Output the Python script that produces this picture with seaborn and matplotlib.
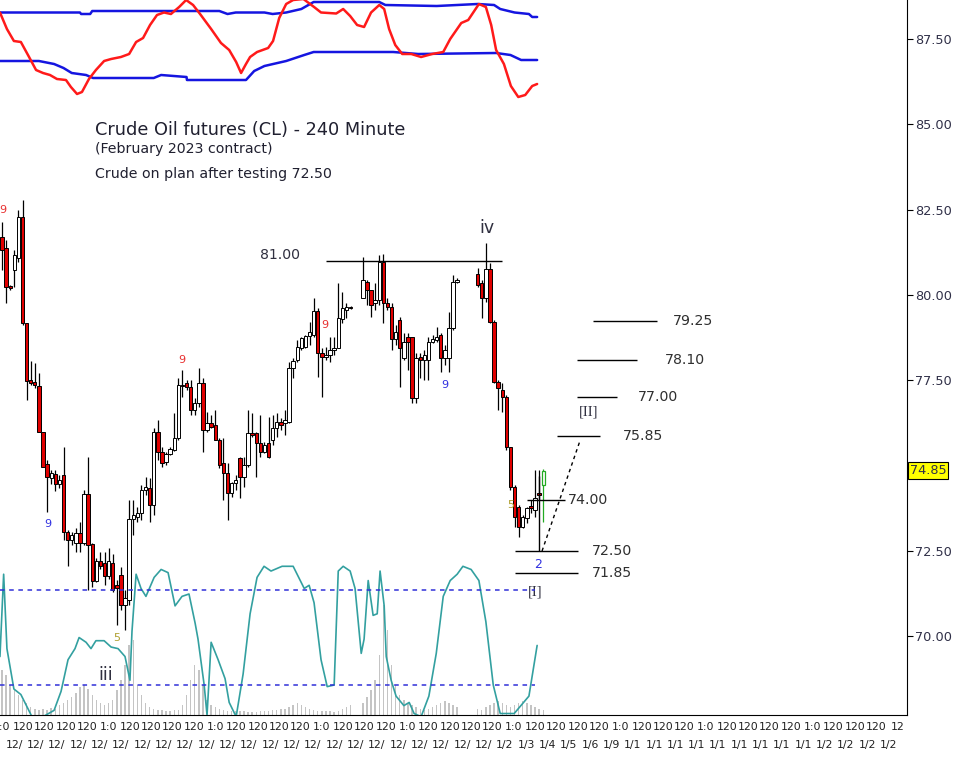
import numpy as np
import matplotlib
matplotlib.use("Agg")
import matplotlib.pyplot as plt
import matplotlib.transforms as mtransforms
from matplotlib.ticker import FormatStrFormatter
import seaborn as sns

nan = np.nan

# 240 minute OHLC bars (nan = no bars, holiday gaps)
opens = [81.70, 81.38, 80.26, 80.73, 81.08, 82.29, 79.18, 77.50, 77.45, 77.33,
         75.98, 75.04, 74.63, 74.75, 74.45, 74.72, 73.05, 72.81, 72.72, 73.02,
         72.72, 74.16, 72.69, 71.61, 72.20, 72.14, 71.76, 72.14, 71.49, 71.79,
         70.91, 71.05, 73.43, 73.49, 73.60, 74.28, 74.34, 73.84, 75.98, 75.39,
         75.10, 75.33, 75.45, 75.80, 77.36, 77.42, 77.30, 76.62, 76.83, 77.42,
         76.04, 76.24, 76.18, 75.74, 75.07, 74.78, 74.19, 74.48, 75.22, 74.66,
         75.01, 75.95, 75.95, 75.66, 75.39, 75.66, 75.74, 76.10, 76.27, 76.24,
         76.27, 77.86, 78.09, 78.44, 78.47, 78.80, 78.82, 79.53, 78.30, 78.18,
         78.24, 78.38, 78.44, 79.29, 79.56, 79.65, nan, nan, 79.91, 80.38,
         80.14, 79.76, 79.85, 80.97, 79.76, 79.65, 78.71, 79.26, 78.15, 78.77,
         78.77, 76.98, 78.18, 78.09, 78.09, 78.62, 78.68, 78.82, 78.15, 78.15,
         79.03, 80.38, nan, nan, nan, nan, 80.61, 80.35, 79.91, 80.76,
         79.21, 77.45, 77.21, 77.01, 75.54, 74.37, 73.78, 73.19, 73.46, 73.81,
         73.69, 74.19, 74.42]
highs = [82.14, 81.61, 80.29, 81.32, 82.49, 82.78, 79.18, 78.06, 78.00, 77.71,
         75.98, 75.16, 74.86, 74.86, 74.72, 75.54, 73.10, 73.05, 73.16, 73.34,
         74.28, 75.25, 72.72, 72.29, 72.46, 72.46, 72.58, 72.40, 71.64, 72.02,
         71.35, 73.99, 73.99, 73.78, 74.42, 74.66, 74.63, 76.10, 76.33, 75.54,
         75.39, 75.54, 76.54, 77.56, 77.80, 77.50, 77.50, 76.98, 77.86, 77.56,
         76.57, 76.48, 76.62, 75.80, 75.80, 75.07, 74.51, 74.72, 75.25, 75.25,
         76.62, 76.54, 75.98, 76.48, 75.69, 76.42, 76.48, 76.54, 76.39, 76.62,
         78.03, 78.15, 78.68, 78.77, 78.82, 79.21, 79.91, 79.62, 78.44, 78.47,
         78.77, 78.77, 80.35, 80.09, 79.76, 79.67, nan, nan, 81.11, 80.44,
         80.14, 80.35, 81.17, 81.20, 79.91, 79.76, 79.12, 79.35, 78.88, 78.88,
         78.77, 78.30, 78.30, 78.38, 78.77, 78.82, 79.06, 78.88, 78.53, 79.50,
         80.58, 80.50, nan, nan, nan, nan, 80.79, 80.44, 81.52, 80.94,
         79.26, 77.50, 77.42, 77.07, 75.54, 74.42, 73.84, 73.54, 73.78, 73.99,
         74.86, 74.86, 74.89]
lows = [80.73, 79.76, 80.14, 80.23, 80.97, 79.12, 76.92, 77.36, 77.27, 75.98,
        74.95, 73.63, 74.45, 74.25, 74.34, 72.81, 72.05, 72.67, 72.46, 72.46,
        72.67, 71.35, 71.43, 71.58, 71.95, 71.49, 71.67, 71.29, 70.32, 70.76,
        70.17, 70.91, 72.96, 73.34, 73.40, 74.13, 73.34, 73.54, 75.16, 74.95,
        75.01, 75.30, 75.42, 75.74, 77.01, 77.21, 76.48, 76.48, 76.71, 75.39,
        75.98, 76.10, 75.74, 74.92, 73.99, 73.40, 74.07, 74.28, 74.04, 74.37,
        74.95, 75.83, 74.66, 75.25, 75.36, 75.22, 75.60, 75.83, 76.04, 75.89,
        76.24, 77.56, 78.03, 78.38, 78.44, 78.53, 78.77, 77.59, 77.01, 78.09,
        78.03, 78.24, 78.44, 79.18, 79.32, 79.59, nan, nan, 79.91, 79.70,
        79.35, 79.56, 79.70, 79.18, 79.56, 78.38, 78.53, 77.30, 78.09, 77.80,
        76.83, 76.83, 77.56, 77.50, 77.50, 78.59, 78.62, 77.74, 77.94, 77.74,
        78.97, 80.35, nan, nan, nan, nan, 80.23, 79.32, 79.79, 79.18,
        77.42, 76.62, 76.57, 75.45, 74.28, 73.19, 72.90, 73.16, 73.31, 73.60,
        73.49, 73.99, 73.34]
closes = [81.32, 80.23, 80.20, 81.17, 82.29, 79.18, 77.48, 77.42, 77.36, 75.98,
          74.95, 74.66, 74.78, 74.45, 74.57, 73.05, 72.81, 72.96, 73.02, 72.72,
          74.16, 72.67, 71.61, 72.20, 72.05, 71.76, 72.20, 71.35, 71.41, 70.91,
          71.11, 73.43, 73.54, 73.60, 74.28, 74.37, 73.84, 75.98, 75.39, 75.07,
          75.33, 75.48, 75.80, 77.36, 77.33, 77.30, 76.62, 76.83, 77.42, 76.04,
          76.24, 76.13, 75.74, 75.01, 74.78, 74.19, 74.48, 74.57, 74.66, 75.01,
          75.95, 75.89, 75.66, 75.39, 75.60, 75.25, 76.10, 76.27, 76.18, 76.33,
          77.86, 78.06, 78.47, 78.74, 78.80, 78.91, 79.53, 78.30, 78.18, 78.24,
          78.38, 78.44, 79.32, 79.62, 79.65, 79.62, nan, nan, 80.44, 80.14,
          79.70, 79.85, 80.97, 79.76, 79.65, 78.71, 78.91, 78.44, 78.62, 78.62,
          76.98, 78.15, 78.09, 78.24, 78.62, 78.71, 78.77, 78.15, 78.38, 79.03,
          80.38, 80.44, nan, nan, nan, nan, 80.29, 79.91, 80.76, 79.21,
          77.45, 77.27, 77.01, 75.54, 74.37, 73.49, 73.19, 73.49, 73.75, 73.75,
          74.04, 74.13, 74.85]
volumes = [45, 40, 30, 25, 20, 15, 12, 8, 6, 5,
           6, 5, 7, 6, 10, 12, 15, 18, 22, 28,
           30, 26, 20, 15, 12, 10, 12, 15, 25, 35,
           50, 70, 75, 30, 20, 12, 8, 6, 5, 5,
           4, 4, 5, 5, 10, 20, 35, 50, 45, 30,
           15, 10, 8, 6, 5, 4, 4, 4, 4, 4,
           3, 3, 3, 4, 4, 4, 5, 5, 6, 6,
           8, 10, 12, 10, 8, 6, 5, 4, 4, 4,
           4, 3, 4, 6, 8, 10, nan, nan, 12, 18,
           25, 35, 60, 110, 85, 50, 30, 20, 15, 12,
           10, 8, 6, 5, 6, 8, 10, 12, 14, 12,
           10, 8, nan, nan, nan, nan, 6, 5, 8, 10,
           12, 14, 12, 10, 8, 10, 12, 14, 12, 10,
           8, 6, 5]

# top band indicator (bar index, value)
red_x = [-0.5, 1.2, 2.9, 4.6, 6.6, 8.3, 10.0, 11.7, 13.4, 15.6, 16.8, 18.3, 19.5,
         21.2, 22.9, 24.9, 26.6, 29.0, 31.0, 32.7, 34.4, 36.1, 37.8, 39.5, 41.2,
         43.2, 44.9, 46.6, 48.3, 51.0, 53.4, 55.4, 57.1, 58.3, 59.5, 60.5, 62.2,
         64.9, 66.1, 67.6, 69.3, 71.0, 73.5, 76.1, 77.8, 81.5, 83.2, 84.9, 86.6,
         88.3, 90.0, 92.0, 93.2, 94.4, 95.9, 97.6, 99.8, 102.2, 104.9, 107.6,
         109.3, 112.0, 113.7, 116.3, 118.0, 119.3, 120.5, 122.4, 124.1, 125.9,
         127.6, 129.3, 130.5]
red_y = [87.5, 71, 59, 58, 43, 30, 27, 25, 21, 20, 13, 6, 8,
         21, 30, 39, 41, 43, 46, 58, 62, 75, 85, 87.5, 86,
         93, 100, 95, 86, 71, 57, 50, 38, 27, 36, 43, 48,
         52, 59, 82, 96, 100, 101, 93, 87.5, 86.5, 91, 84, 75,
         73, 87.5, 95, 91, 71, 55, 46, 46, 43, 46, 48,
         61, 77, 80, 96, 93, 75, 50, 36, 14, 3,
         5, 14, 16]
band_hi_x = [-0.5, 19, 19.3, 21.5, 22, 53, 55, 57, 64, 66, 69.3, 73, 76, 92,
             93.5, 106, 116, 120, 121.5, 125, 128.5, 129.3, 130.5]
band_hi_y = [87.5, 87.5, 86, 86, 89, 89, 86, 87.5, 87.5, 86, 87.5, 91, 98, 98,
             95, 94, 96, 95, 91, 87.5, 86, 83, 83]
band_lo_x = [-0.5, 9, 12.7, 15, 17, 20.5, 22.2, 37, 38.8, 45, 45.1, 59.5, 61.5,
             64, 69.3, 73.7, 76, 95.4, 101.5, 120.5, 124, 126.6, 130.5]
band_lo_y = [39, 39, 36, 32, 27, 25, 22, 22, 25, 23, 20, 20, 29,
             34, 39, 45, 48, 48, 46, 47, 45, 40, 40]

# lower oscillator (bar index, value 0-100)
osc_x = [-0.5, 0.4, 1.2, 2.9, 4.6, 7.3, 10, 12.7, 14.4, 16.1, 17.8, 18.8, 20.5,
         21.7, 22.9, 24.9, 26.6, 28.3, 30, 31.2, 31.7, 32.7, 33.9, 35.1, 37.1,
         38.8, 40.5, 42.2, 43.9, 45.6, 47.1, 47.8, 49.3, 50, 51, 52.7, 54.4,
         55.4, 57.1, 58.8, 60.5, 62.2, 63.9, 65.6, 68.3, 71, 73.7, 74.9, 76.1,
         77.8, 79.3, 81, 82, 83.2, 84.9, 86.1, 87.6, 88.3, 89.3, 90.5, 91.5,
         92.2, 93.2, 93.7, 94.9, 96.1, 98, 99.3, 100.5, 102.2, 104.1, 105.9,
         107.6, 109.3, 111, 112.4, 114.4, 116.3, 118, 119.8, 121.5, 124.9,
         128.5, 130.5]
osc_y = [38, 90, 43, 17.5, 14, 0, 0, 4, 16, 36, 43, 50, 47,
         43, 48, 48, 44, 43, 38, 23, 54, 90, 81, 76, 88,
         93, 91, 70, 76, 77.5, 59, 49, 20, 1, 47, 36, 24,
         9, 0, 27, 65, 88, 95, 92, 95, 95, 81, 83, 72,
         36, 19, 20, 92, 95, 92, 81, 40, 49, 86, 64, 65,
         92, 70, 38, 23, 13, 7, 9, 2, 0, 13, 40,
         76, 86, 90, 95, 93, 86, 60, 20, 2, 2,
         13, 45]
osc_levels = [80, 20]

# price targets drawn on the right of the last bar
level_prices = [79.25, 78.10, 77.00, 75.85, 74.00, 72.50, 71.85]
level_labels = ["79.25", "78.10", "77.00", "75.85", "74.00", "72.50", "71.85"]
level_start = [144.1, 140.2, 140.2, 135.4, 128.0, 125.1, 125.1]
level_end = [159.8, 154.9, 150.0, 145.9, 137.3, 140.5, 140.5]
level_text_x = [163.7, 161.7, 155.1, 151.5, 138.0, 143.9, 143.9]

price_ticks = [70.0, 72.5, 77.5, 80.0, 82.5, 85.0, 87.5]
last_price = 74.85

time_labels = ["1:0", "120", "120", "120", "120", "1:0", "120", "120", "120",
               "120", "1:0", "120", "120", "120", "120", "1:0", "120", "120",
               "120", "1:0", "120", "120", "120", "120", "1:0", "120", "120",
               "120", "120", "1:0", "120", "120", "120", "1:0", "120", "120",
               "120", "120", "1:0", "120", "120", "120", "12"]
date_labels = ["12/"] * 23 + ["1/2", "1/3", "1/4", "1/5", "1/6", "1/9", "1/1",
                               "1/1", "1/1", "1/1", "1/1", "1/1", "1/1", "1/1",
                               "1/1", "1/2", "1/2", "1/2", "1/2"]

# ---------------------------------------------------------------- figure
sns.set_style("white")
plt.rcParams['font.family'] = ['DejaVu Sans']

fig = plt.figure(figsize=(9.68, 7.62), dpi=100, facecolor='white')
rect = [0, 47 / 762, 907 / 968, 715 / 762]
ax_vol = fig.add_axes(rect, label='vol', zorder=0)
ax = fig.add_axes(rect, label='price', zorder=1)
ax_osc = fig.add_axes(rect, label='osc', zorder=2)
ax_top = fig.add_axes(rect, label='top', zorder=2)

n_slots = 220.7
for a in (ax_vol, ax, ax_osc, ax_top):
    a.set_xlim(-0.49, n_slots)
    a.patch.set_visible(False)
    for s in a.spines.values():
        s.set_visible(False)

idx = np.arange(len(opens))
o = np.array(opens)
h = np.array(highs)
l = np.array(lows)
c = np.array(closes)

# volume
ax_vol.bar(idx, volumes, width=0.35, color='#c4c4c4', linewidth=0)
ax_vol.set_ylim(0, 715)
ax_vol.set_yticks([])
ax_vol.set_xticks(3 + np.arange(len(date_labels)) * 5.2)
ax_vol.set_xticklabels(date_labels)
ax_vol.tick_params(axis='x', length=0, pad=18, labelsize=7.8, labelcolor='#202020')

# candles
main = idx[:-1]
body_col = np.where(c[:-1] >= o[:-1], 'white', '#e00000')
ax.vlines(main, l[:-1], h[:-1], color='black', lw=0.9, zorder=2)
ax.bar(main, c[:-1] - o[:-1], bottom=o[:-1], width=0.82, color=body_col,
       edgecolor='black', linewidth=0.7, zorder=3)
ax.vlines(idx[-1], l[-1], h[-1], color='#22aa22', lw=0.9, zorder=2)
ax.bar(idx[-1], c[-1] - o[-1], bottom=o[-1], width=0.82, color='white',
       edgecolor='#22aa22', linewidth=0.9, zorder=3)

ax.set_ylim(67.68, 88.65)
ax.yaxis.tick_right()
ax.set_yticks(price_ticks)
ax.yaxis.set_major_formatter(FormatStrFormatter('%.2f'))
ax.tick_params(axis='y', direction='out', length=4, width=0.8, pad=2,
               labelsize=9.3, labelcolor='#303048', color='black')
ax.spines['right'].set_visible(True)
ax.spines['bottom'].set_visible(True)
ax.spines['right'].set_color('black')
ax.spines['bottom'].set_color('black')

ax.set_xticks(np.arange(len(time_labels)) * 5.2)
ax.set_xticklabels(time_labels)
ax.set_xticks(np.arange(0, 221), minor=True)
ax.tick_params(axis='x', which='major', length=0, pad=5, labelsize=7.8,
               labelcolor='#202020')
ax.tick_params(axis='x', which='minor', direction='out', length=3, width=0.6,
               color='#333333')

# 81.00 resistance and targets
ax.hlines(81.0, 79, 122, color='black', lw=1.0, zorder=4)
ax.text(63, 81.18, "81.00", fontsize=10.2, color='#303040', va='center')
ax.hlines(level_prices, level_start, level_end, color='black', lw=1.0, zorder=4)
for p, t, x in zip(level_prices, level_labels, level_text_x):
    ax.text(x, p, t, fontsize=10.2, color='#303030', va='center')
ax.vlines(131, 72.50, 74.70, color='black', lw=1.0, zorder=4)
ax.plot([131.7, 141], [72.49, 75.74], color='black', lw=1.0, ls=(0, (2.5, 2.5)), zorder=4)

# wave labels
ax.text(118.3, 81.96, "iv", fontsize=12.5, color='#303040', ha='center', va='center')
ax.text(25.4, 68.86, "iii", fontsize=12.5, color='#303040', ha='center', va='center')
ax.text(143, 76.57, "[II]", fontsize=10.5, family=['Liberation Serif'], color='#303040',
        ha='center', va='center')
ax.text(130, 71.29, "[I]", fontsize=10.5, family=['Liberation Serif'], color='#303040',
        ha='center', va='center')
ax.text(130.7, 72.08, "2", fontsize=9, color='#3030e0', ha='center', va='center')
for x, y in [(0.3, 82.49), (43.9, 78.09), (78.8, 79.12)]:
    ax.text(x, y, "9", fontsize=8, color='#e83030', ha='center', va='center')
for x, y in [(11.2, 73.28), (108, 77.36)]:
    ax.text(x, y, "9", fontsize=8, color='#3030e0', ha='center', va='center')
for x, y in [(124.1, 73.84), (28, 69.94)]:
    ax.text(x, y, "5", fontsize=8, color='#b0a030', ha='center', va='center')

# last price box
trans = mtransforms.blended_transform_factory(ax.transAxes, ax.transData)
ax.text(1.003, last_price, f"{last_price:.2f}", transform=trans, fontsize=9.3,
        color='#303048', va='center', ha='left', clip_on=False,
        bbox=dict(boxstyle='square,pad=0.15', facecolor='#ffff00', edgecolor='black', lw=0.8))

# oscillator
sns.lineplot(x=osc_x, y=osc_y, ax=ax_osc, color='#33a0a0', lw=1.2, sort=False,
             estimator=None)
ax_osc.hlines(osc_levels, -0.5, 130, colors='#3030d8', lw=1.1, linestyles=(0, (3, 3)))
ax_osc.set_ylim(1.07, 452.7)
ax_osc.axis('off')

# top band indicator
sns.lineplot(x=band_hi_x, y=band_hi_y, ax=ax_top, color='#1515e0', lw=1.8, sort=False,
             estimator=None)
sns.lineplot(x=band_lo_x, y=band_lo_y, ax=ax_top, color='#1515e0', lw=1.8, sort=False,
             estimator=None)
sns.lineplot(x=red_x, y=red_y, ax=ax_top, color='#ff1a1a', lw=1.8, sort=False,
             estimator=None)
ax_top.set_ylim(-615, 100)
ax_top.axis('off')

# headings
fig.text(95 / 968, 1 - 130 / 762, "Crude Oil futures (CL) - 240 Minute", fontsize=12.8,
         color='#202030', va='center')
fig.text(95 / 968, 1 - 149 / 762, "(February 2023 contract)", fontsize=10.2,
         color='#202030', va='center')
fig.text(95 / 968, 1 - 174 / 762, "Crude on plan after testing 72.50", fontsize=10.2,
         color='#202030', va='center')

fig.savefig("out.png", dpi=100, facecolor='white')
